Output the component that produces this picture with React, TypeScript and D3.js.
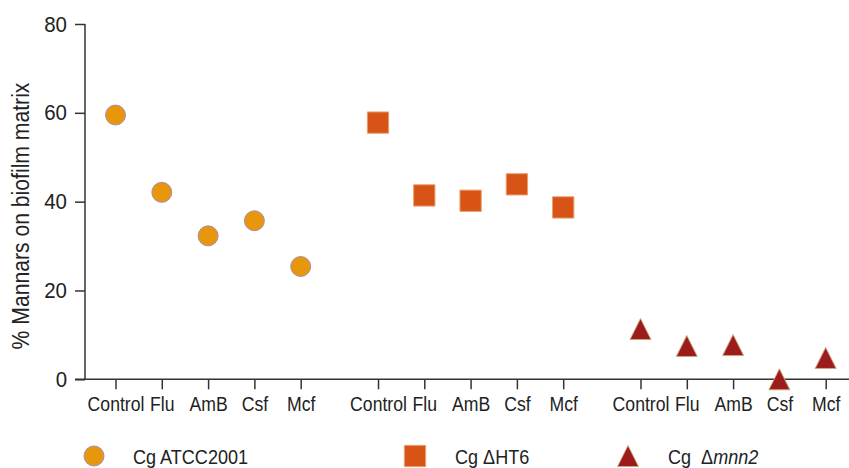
import React, { useEffect, useRef } from 'react';
import * as d3 from 'd3';

const treatments = ['Control', 'Flu', 'AmB', 'Csf', 'Mcf'];
const strains = ['Cg ATCC2001', 'Cg ΔHT6', 'Cg Δmnn2'];
const atccValues = [59.5, 42.1, 32.3, 35.7, 25.4];
const ht6Values = [57.8, 41.4, 40.2, 43.9, 38.7];
const mnn2Values = [11.3, 7.5, 7.7, 0, 4.8];
const yTicks = [0, 20, 40, 60, 80];

const FONT = '"Liberation Sans", Arial, sans-serif';
const SQUEEZE = 0.86; // the figure uses a condensed face, fake it by squeezing Liberation Sans
const GROUP_STEP = 5.67; // gap between the three strain blocks, in treatment units

// triangle centred on its bounding box (the csf point sits right on the axis)
const tallTriangle = {
  draw(ctx: any, size: number) {
    const h = Math.sqrt(size);
    const w = h;
    ctx.moveTo(0, -h / 2);
    ctx.lineTo(w / 2, h / 2);
    ctx.lineTo(-w / 2, h / 2);
    ctx.closePath();
  },
};

export default function App() {
  const svgRef = useRef<SVGSVGElement>(null);

  useEffect(() => {
    if (!svgRef.current) return;
    const svg = d3.select(svgRef.current);
    svg.selectAll('*').remove();

    const width = 849;
    const axisX = 85;

    const y = d3.scaleLinear().domain([0, 80]).range([379.3, 24]);
    const x = d3.scaleLinear().domain([0, 2 * GROUP_STEP + 4]).range([115.5, 825.7]);

    const series = [
      { name: strains[0], values: atccValues, shape: 'circle', fill: '#E8970C', stroke: '#A58FB0' },
      { name: strains[1], values: ht6Values, shape: 'square', fill: '#D85316', stroke: '#E8A070' },
      { name: strains[2], values: mnn2Values, shape: 'triangle', fill: '#9B1C1A', stroke: '#C8A880' },
    ];

    const pos = (g: number, i: number) => x(g * GROUP_STEP + i);

    // y axis
    const yAxis = svg.append('g')
      .attr('transform', `translate(${axisX},0)`)
      .call(d3.axisLeft(y).tickValues(yTicks).tickSize(10).tickPadding(8));
    yAxis.select('.domain').remove();
    yAxis.append('line')
      .attr('x1', 0).attr('x2', 0)
      .attr('y1', y(80)).attr('y2', y(0))
      .attr('stroke', '#333').attr('stroke-width', 1.5);
    yAxis.selectAll('.tick line').attr('stroke', '#333').attr('stroke-width', 1.5);
    yAxis.selectAll('.tick text')
      .attr('fill', '#222')
      .attr('x', -18 / 0.93)
      .attr('transform', 'scale(0.93,1)')
      .style('font-family', FONT)
      .style('font-size', '22px');

    // x axis, one tick per treatment per strain
    const tickPos: number[] = [];
    const tickLab: string[] = [];
    series.forEach(() => treatments.forEach((t) => tickLab.push(t)));
    series.forEach((_, g) => treatments.forEach((t, i) => tickPos.push(pos(g, i))));
    const xPx = d3.scaleLinear().domain([0, width]).range([0, width]);
    const xAxis = svg.append('g')
      .attr('transform', `translate(0,${y(0)})`)
      .call(d3.axisBottom(xPx).tickValues(tickPos).tickSize(10).tickPadding(7)
        .tickFormat((_, i) => tickLab[i]));
    xAxis.select('.domain').remove();
    xAxis.append('line')
      .attr('x1', axisX - 10).attr('x2', width)
      .attr('y1', 0).attr('y2', 0)
      .attr('stroke', '#333').attr('stroke-width', 1.5);
    xAxis.selectAll('.tick line').attr('stroke', '#333').attr('stroke-width', 1.5);
    xAxis.selectAll('.tick text')
      .attr('fill', '#222')
      .attr('transform', `scale(${SQUEEZE},1)`)
      .style('font-family', FONT)
      .style('font-size', '20.5px');

    // y label
    svg.append('text')
      .attr('transform', `translate(29,216) rotate(-90) scale(${SQUEEZE},1)`)
      .attr('text-anchor', 'middle')
      .attr('fill', '#222')
      .style('font-family', FONT)
      .style('font-size', '24.6px')
      .text('% Mannars on biofilm matrix');

    const symbolFor = (shape: string) => {
      if (shape === 'circle') return d3.symbol().type(d3.symbolCircle).size(Math.PI * 10 * 10);
      if (shape === 'square') return d3.symbol().type(d3.symbolSquare).size(21.3 * 21.3);
      return d3.symbol().type(tallTriangle as any).size(21 * 21);
    };

    series.forEach((s, g) => {
      svg.append('g')
        .selectAll('path')
        .data(s.values)
        .join('path')
        .attr('transform', (v, i) => `translate(${pos(g, i)},${y(v)})`)
        .attr('d', symbolFor(s.shape)() as string)
        .attr('fill', s.fill)
        .attr('stroke', s.stroke)
        .attr('stroke-width', 1);
    });

    // legend
    const legendY = 456;
    const legendX = [94, 415, 628];
    const legendTextX = [133, 455, 668];
    series.forEach((s, g) => {
      svg.append('path')
        .attr('transform', `translate(${legendX[g]},${legendY})`)
        .attr('d', symbolFor(s.shape)() as string)
        .attr('fill', s.fill)
        .attr('stroke', s.stroke)
        .attr('stroke-width', 1);
      const t = svg.append('text')
        .attr('transform', `translate(${legendTextX[g]},464) scale(${SQUEEZE},1)`)
        .attr('fill', '#222')
        .style('font-family', FONT)
        .style('font-size', '21px')
        .style('white-space', 'pre');
      if (g === 2) {
        t.append('tspan').text('Cg  Δ');
        t.append('tspan').style('font-style', 'italic').text('mnn2');
      } else {
        t.text(s.name);
      }
    });
  }, []);

  return (
    <svg
      ref={svgRef}
      width={849}
      height={468}
      style={{ position: 'absolute', left: 0, top: 0, background: '#fff' }}
    />
  );
}
